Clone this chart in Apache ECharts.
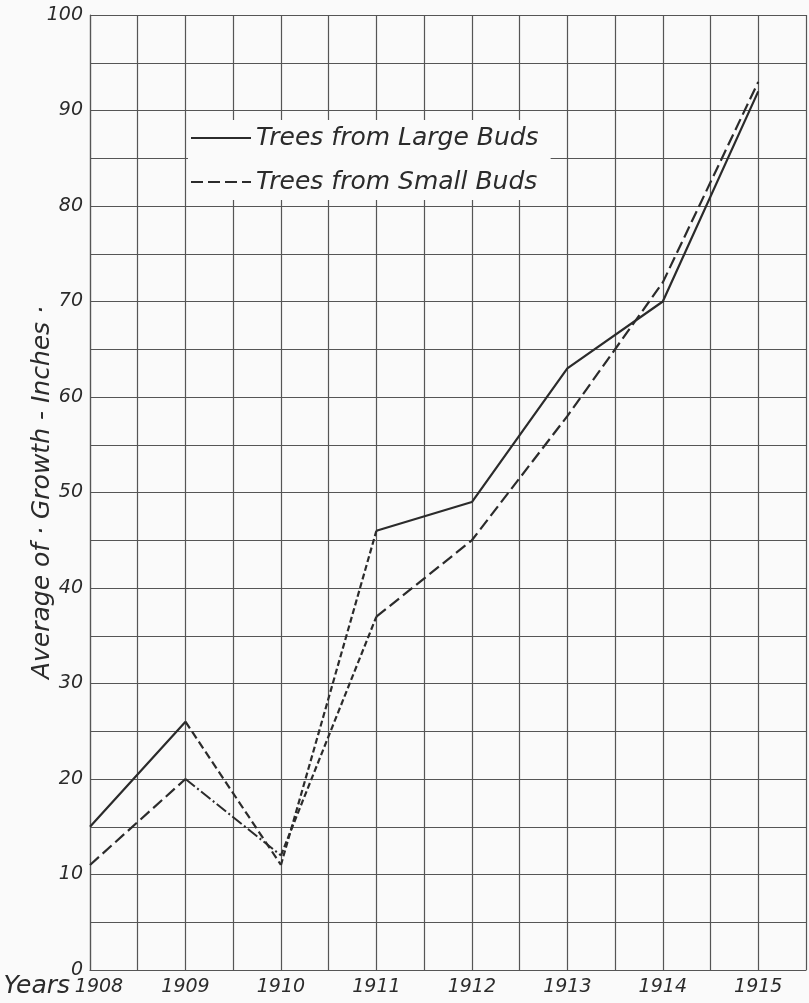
<!DOCTYPE html>
<html>
<head>
<meta charset="utf-8">
<script src="https://cdn.jsdelivr.net/npm/echarts@6/dist/echarts.min.js"></script>
<style>
html,body{margin:0;padding:0;background:#fafafa;}
#chart{width:809px;height:1003px;}
</style>
</head>
<body>
<div id="chart"></div>
<script>
// ---- data ----
const years = [1908, 1909, 1910, 1911, 1912, 1913, 1914, 1915];
const largeBuds = [15, 26, 11, 46, 49, 63, 70, 92];
const smallBuds = [11, 20, 12, 37, 45, 58, 72, 93];
const seriesNames = ['Trees from Large Buds', 'Trees from Small Buds'];
const yAxisTitle = 'Average of · Growth - Inches ·';
const xAxisTitle = 'Years';

// build [x,y] pairs for chosen index ranges, null elsewhere (breaks the line)
function part(values, ranges) {
  return years.map((yr, i) => {
    const inside = ranges.some(r => i >= r[0] && i <= r[1]);
    return [yr, inside ? values[i] : null];
  });
}

const ink = '#2b2b2b';
const font = "'DejaVu Sans', sans-serif";

const chart = echarts.init(document.getElementById('chart'), null, {renderer: 'canvas'});
chart.setOption({
  animation: false,
  backgroundColor: '#fafafa',
  color: [ink, ink, ink, ink, ink, ink],
  grid: {left: 90, right: 3, top: 15, bottom: 33, containLabel: false, outerBoundsMode: 'none'},
  legend: {
    data: seriesNames,
    orient: 'vertical',
    left: 188,
    top: 120,
    padding: [5, 12, 5, 2],
    backgroundColor: '#fafafa',
    itemWidth: 60,
    itemHeight: 14,
    itemGap: 18,
    selectedMode: false,
    itemStyle: {opacity: 0},
    textStyle: {fontFamily: font, fontStyle: 'italic', fontSize: 25, color: ink, lineHeight: 26}
  },
  xAxis: {
    type: 'value',
    min: 1908,
    max: 1915.5,
    interval: 0.5,
    name: xAxisTitle,
    nameLocation: 'start',
    nameGap: 20,
    nameMoveOverlap: false,
    nameTextStyle: {fontFamily: font, fontStyle: 'italic', fontSize: 25, color: ink, verticalAlign: 'top', padding: [4, 0, 0, 0]},
    axisLine: {show: true, lineStyle: {color: '#555', width: 1.2}},
    axisTick: {show: false},
    splitLine: {show: true, lineStyle: {color: '#555', width: 1.2}},
    axisLabel: {
      margin: 8,
      fontFamily: font, fontStyle: 'italic', fontSize: 19, color: ink,
      formatter: v => {
        if (!Number.isInteger(v)) return '';
        return v === years[0] ? '{s|' + v + '}' : String(v);
      },
      rich: {s: {padding: [0, 0, 0, 18], fontFamily: font, fontStyle: 'italic', fontSize: 19, color: ink}}
    }
  },
  yAxis: {
    type: 'value',
    min: 0,
    max: 100,
    interval: 5,
    name: yAxisTitle,
    nameLocation: 'middle',
    nameGap: 35,
    nameMoveOverlap: false,
    nameTextStyle: {fontFamily: font, fontStyle: 'italic', fontSize: 25, color: ink},
    axisLine: {show: true, lineStyle: {color: '#555', width: 1.2}},
    axisTick: {show: false},
    splitLine: {show: true, lineStyle: {color: '#555', width: 1.2}},
    axisLabel: {
      margin: 7,
      fontFamily: font, fontStyle: 'italic', fontSize: 19, color: ink,
      formatter: v => (v % 10 === 0 ? String(v) : '')
    }
  },
  series: [
    {
      name: seriesNames[0], type: 'line', symbol: 'none', z: 3,
      data: part(largeBuds, [[0, 1], [3, 7]]),
      lineStyle: {color: ink, width: 2.2, type: 'solid'}
    },
    {
      name: seriesNames[1], type: 'line', symbol: 'none', z: 3,
      data: part(smallBuds, [[0, 1], [3, 7]]),
      lineStyle: {color: ink, width: 2.2, type: [12, 5]}
    },
    {
      name: 'large-1909-1910', type: 'line', symbol: 'none', z: 3,
      data: part(largeBuds, [[1, 2]]),
      lineStyle: {color: ink, width: 2.2, type: [8, 4]}
    },
    {
      name: 'large-1910-1911', type: 'line', symbol: 'none', z: 3,
      data: part(largeBuds, [[2, 3]]),
      lineStyle: {color: ink, width: 2.2, type: [6, 3]}
    },
    {
      name: 'small-1909-1910', type: 'line', symbol: 'none', z: 3,
      data: part(smallBuds, [[1, 2]]),
      lineStyle: {color: ink, width: 2, type: [12, 3, 2, 3]}
    },
    {
      name: 'small-1910-1911', type: 'line', symbol: 'none', z: 3,
      data: part(smallBuds, [[2, 3]]),
      lineStyle: {color: ink, width: 2.2, type: [6, 3]}
    }
  ]
});
</script>
</body>
</html>
